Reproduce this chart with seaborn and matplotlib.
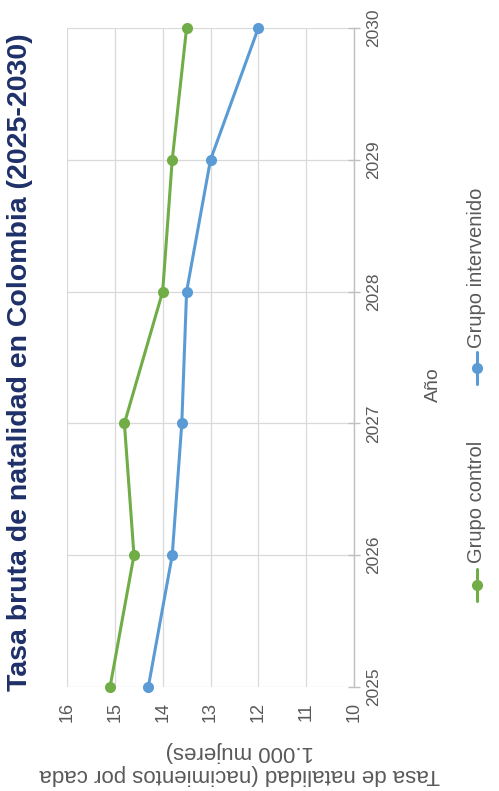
import matplotlib
matplotlib.use("Agg")
import matplotlib.pyplot as plt
from matplotlib.lines import Line2D
import seaborn as sns
import pandas as pd

# ---- data ----
anios = [2025, 2026, 2027, 2028, 2029, 2030]
grupo_control = [15.1, 14.6, 14.8, 14.0, 13.8, 13.5]
grupo_intervenido = [14.3, 13.8, 13.6, 13.5, 13.0, 12.0]
series_names = ["Grupo control", "Grupo intervenido"]
valor_ticks = [16, 15, 14, 13, 12, 11, 10]

titulo = "Tasa bruta de natalidad en Colombia (2025-2030)"
eje_valor = "Tasa de natalidad (nacimientos por cada\n1.000 mujeres)"
eje_anio = "Año"

df = pd.DataFrame({
    "anio": anios * 2,
    "valor": grupo_control + grupo_intervenido,
    "grupo": [series_names[0]] * len(anios) + [series_names[1]] * len(anios),
})

sns.set_style("white")
plt.rcParams["font.family"] = ["Liberation Sans", "DejaVu Sans"]

GREEN = "#70ad47"
BLUE = "#5b9bd5"
GRAY_TXT = "#595959"
GRID = "#d9d9d9"
AXIS = "#bfbfbf"

W, H = 499, 791
fig = plt.figure(figsize=(W / 100, H / 100), dpi=100)
fig.patch.set_facecolor("white")
ax = fig.add_axes([67 / W, 1 - 687 / H, 287 / W, 659 / H])

sns.lineplot(data=df, x="valor", y="anio", hue="grupo", orient="y",
             palette={series_names[0]: GREEN, series_names[1]: BLUE},
             marker="o", markersize=8, markeredgewidth=0, linewidth=2.2,
             legend=False, clip_on=False, ax=ax, zorder=5)

ax.set_xlim(16, 10)
ax.set_ylim(2025, 2030)
ax.set_xticks(valor_ticks)
ax.set_xticklabels([str(v) for v in valor_ticks])
ax.set_yticks(anios)
ax.set_yticklabels([str(a) for a in anios])
ax.set_xlabel("")
ax.set_ylabel("")

ax.grid(True, color=GRID, linewidth=0.9)
ax.set_axisbelow(True)
for s in ["top", "left", "bottom"]:
    ax.spines[s].set_visible(False)
ax.spines["right"].set_visible(True)
ax.spines["right"].set_color(AXIS)
ax.spines["right"].set_linewidth(1.0)

ax.yaxis.tick_right()
ax.tick_params(axis="y", which="both", direction="inout", length=9, width=1.0,
               color=AXIS, labelcolor=GRAY_TXT, labelsize=12.5, labelrotation=90, pad=4)
for lbl in ax.get_yticklabels():
    lbl.set_va("center")
ax.tick_params(axis="x", which="both", length=0, labelcolor=GRAY_TXT,
               labelsize=13, labelrotation=90, pad=11)

# title (rotated)
fig.text(20 / W, 1 - 362 / H, titulo, rotation=90, ha="center", va="center",
         fontsize=20.5, fontweight="bold", color="#1f3069")

# value axis label (upside down)
fig.text(240 / W, 1 - 763 / H, eje_valor, rotation=180, ha="center", va="center",
         fontsize=16, color=GRAY_TXT, linespacing=1.1)

# year axis label
fig.text(433 / W, 1 - 385 / H, eje_anio, rotation=90, ha="center", va="center",
         fontsize=14, color=GRAY_TXT)

# legend (rotated, drawn manually)
leg_items = [(series_names[0], GREEN, 585, 563), (series_names[1], BLUE, 368, 348)]
for name, col, ymark, ytext in leg_items:
    fig.add_artist(Line2D([477 / W, 477 / W], [1 - (ymark + 16) / H, 1 - (ymark - 16) / H],
                          transform=fig.transFigure, color=col, linewidth=2.2))
    fig.add_artist(Line2D([477 / W], [1 - ymark / H], transform=fig.transFigure,
                          color=col, marker="o", markersize=8, markeredgewidth=0))
    fig.text(477 / W, 1 - ytext / H, name, rotation=90, ha="center", va="bottom",
             fontsize=14.5, color=GRAY_TXT)

fig.savefig("out.png", dpi=100, facecolor="white")
